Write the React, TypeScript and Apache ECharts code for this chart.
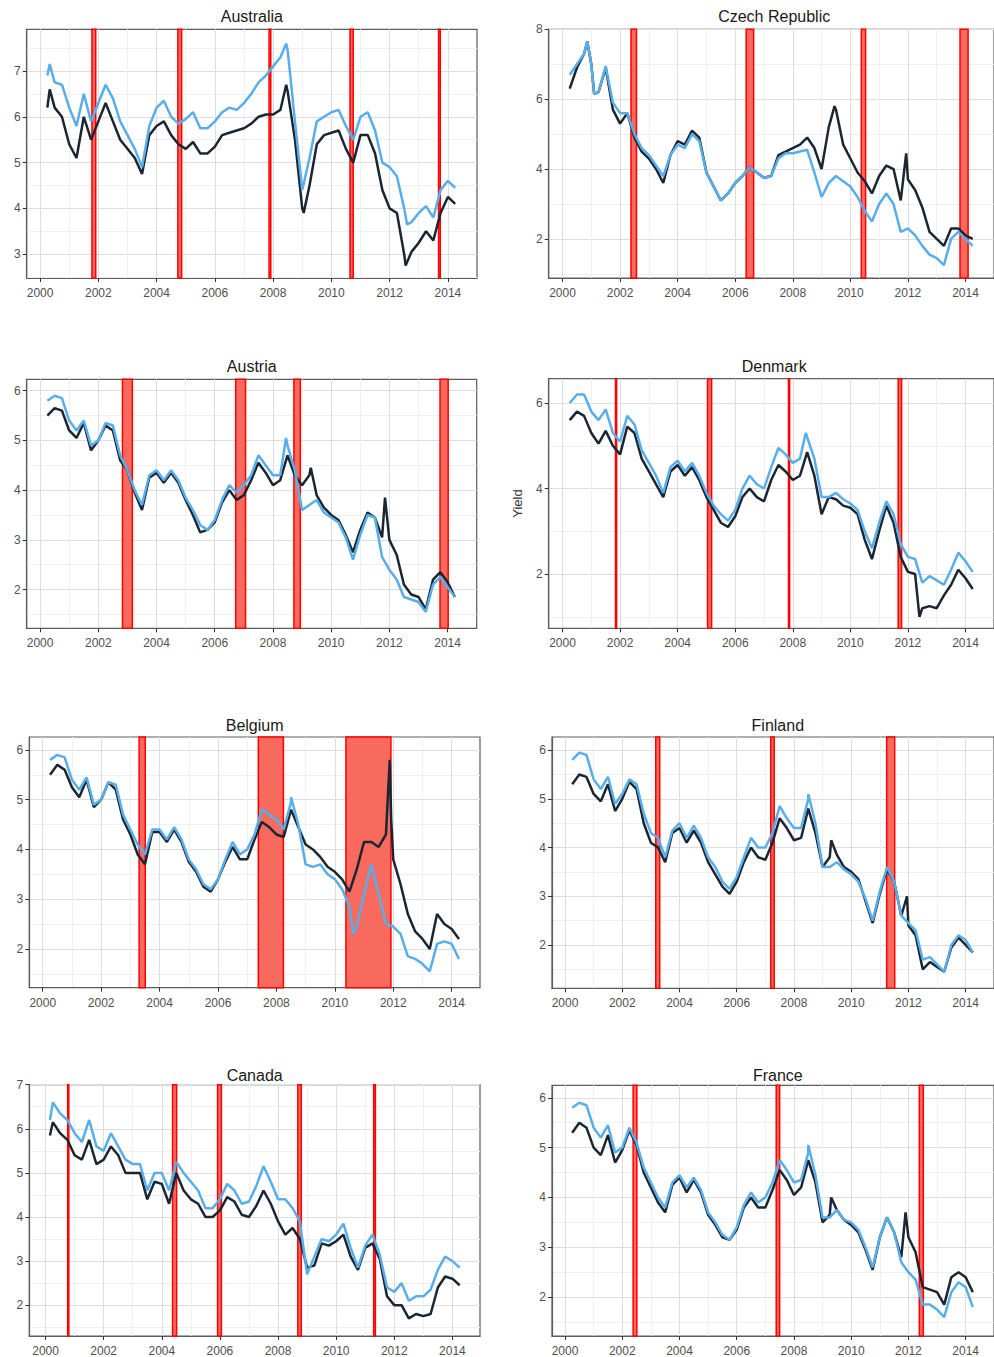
import React, { useEffect, useRef } from "react";
import * as echarts from "echarts";

// Quarterly sample dates (decimal years)
const DATES = [
  2000.25, 2000.5, 2000.75, 2001, 2001.25, 2001.5, 2001.75, 2002, 2002.25, 2002.5, 2002.75, 2003,
  2003.25, 2003.5, 2003.75, 2004, 2004.25, 2004.5, 2004.75, 2005, 2005.25, 2005.5, 2005.75, 2006,
  2006.25, 2006.5, 2006.75, 2007, 2007.25, 2007.5, 2007.75, 2008, 2008.25, 2008.5, 2008.75, 2009,
  2009.25, 2009.5, 2009.75, 2010, 2010.25, 2010.5, 2010.75, 2011, 2011.25, 2011.5, 2011.75, 2012,
  2012.25, 2012.5, 2012.75, 2013, 2013.25, 2013.5, 2013.75, 2014, 2014.25,
];

const YEAR_TICKS = [2000, 2002, 2004, 2006, 2008, 2010, 2012, 2014];

const AUS_BLUE = [6.9,6.75,6.7,6.2, 5.8,6.5,5.9,6.3, 6.7,6.4,5.9,5.6, 5.3,4.9,5.8,6.2, 6.35,6.0,5.85,5.95, 6.1,5.75,5.75,5.9, 6.1,6.2,6.15,6.3, 6.5,6.75,6.9,7.1, 7.3,7.45,5.9,4.4, 5.1,5.9,6.0,6.1, 6.15,5.8,5.5,6.0, 6.1,5.7,5.0,4.9, 4.7,4.0,3.7,3.9, 4.05,3.8,4.4,4.6, 4.45];
const AUS_BLACK = [6.2,6.2,6.0,5.4, 5.1,6.0,5.5,5.9, 6.3,5.9,5.5,5.3, 5.1,4.75,5.6,5.8, 5.9,5.6,5.4,5.3, 5.45,5.2,5.2,5.35, 5.6,5.65,5.7,5.75, 5.85,6.0,6.05,6.05, 6.15,6.55,5.5,4.0, 4.5,5.4,5.6,5.65, 5.7,5.3,5.0,5.6, 5.6,5.2,4.4,4.0, 3.9,3.0,3.05,3.25, 3.5,3.3,3.9,4.25, 4.1];

const CZE_BLUE = [6.7,7.0,7.3,7.0, 6.2,6.95,5.9,5.6, 5.6,5.0,4.6,4.4, 4.1,3.8,4.4,4.7, 4.6,5.0,4.8,3.9, 3.5,3.1,3.3,3.6, 3.8,4.05,3.9,3.75, 3.8,4.3,4.45,4.45, 4.5,4.55,3.9,3.2, 3.6,3.8,3.65,3.5, 3.2,2.8,2.5,3.0, 3.3,3.0,2.2,2.3, 2.1,1.8,1.55,1.45, 1.25,2.0,2.2,2.0, 1.8];
const CZE_BLACK = [6.3,6.9,7.3,7.0, 6.2,6.9,5.7,5.3, 5.6,4.9,4.5,4.3, 4.0,3.6,4.4,4.8, 4.7,5.1,4.9,3.9, 3.5,3.1,3.3,3.6, 3.8,4.05,3.9,3.75, 3.8,4.4,4.5,4.6, 4.7,4.9,4.6,4.0, 5.2,5.7,4.7,4.3, 3.9,3.65,3.3,3.8, 4.1,4.0,3.1,3.7, 3.4,2.9,2.2,2.0, 1.8,2.3,2.3,2.1, 2.0];

const AUT_BLUE = [5.8,5.9,5.85,5.4, 5.2,5.4,4.9,5.0, 5.35,5.3,4.7,4.4, 4.0,3.7,4.3,4.4, 4.2,4.4,4.2,3.85, 3.6,3.3,3.2,3.4, 3.8,4.1,3.95,4.1, 4.3,4.7,4.5,4.3, 4.3,4.9,4.4,3.6, 3.7,3.8,3.55,3.45, 3.35,3.05,2.6,3.1, 3.5,3.45,2.65,2.4, 2.2,1.85,1.8,1.75, 1.55,2.1,2.25,2.05, 1.85];
const AUT_BLACK = [5.5,5.65,5.6,5.2, 5.05,5.35,4.8,5.0, 5.3,5.2,4.6,4.4, 3.95,3.6,4.25,4.35, 4.15,4.35,4.15,3.8, 3.5,3.15,3.2,3.35, 3.75,4.0,3.8,3.9, 4.2,4.55,4.35,4.1, 4.2,4.7,4.3,4.1, 4.3,3.9,3.65,3.5, 3.4,3.1,2.75,3.2, 3.55,3.45,3.05,3.0, 2.7,2.1,1.9,1.85, 1.6,2.2,2.35,2.15, 1.85];

const DNK_BLUE = [6.0,6.2,6.2,5.8, 5.6,5.85,5.3,5.1, 5.7,5.5,4.9,4.6, 4.3,3.9,4.5,4.65, 4.4,4.6,4.3,3.9, 3.6,3.4,3.25,3.5, 4.0,4.3,4.1,4.0, 4.5,4.95,4.8,4.6, 4.7,5.2,4.7,3.8, 3.8,3.9,3.75,3.65, 3.5,3.0,2.6,3.2, 3.7,3.4,2.7,2.4, 2.35,1.8,1.95,1.85, 1.75,2.1,2.5,2.3, 2.05];
const DNK_BLACK = [5.6,5.8,5.7,5.3, 5.05,5.35,5.0,4.8, 5.45,5.3,4.7,4.4, 4.1,3.8,4.4,4.55, 4.3,4.5,4.2,3.8, 3.5,3.2,3.1,3.35, 3.8,4.0,3.8,3.7, 4.2,4.55,4.4,4.2, 4.3,4.85,4.3,3.4, 3.8,3.75,3.6,3.55, 3.4,2.8,2.35,3.0, 3.6,3.2,2.4,2.05, 2.0,1.2,1.25,1.2, 1.5,1.75,2.1,1.9, 1.65];

const BEL_BLUE = [5.8,5.9,5.85,5.4, 5.2,5.45,4.9,5.0, 5.35,5.3,4.7,4.4, 4.1,3.9,4.4,4.4, 4.2,4.45,4.2,3.8, 3.6,3.3,3.2,3.4, 3.8,4.15,3.9,4.0, 4.3,4.8,4.7,4.6, 4.4,4.95,4.5,3.7, 3.65,3.7,3.5,3.4, 3.2,2.85,2.45,3.1, 3.7,3.1,2.5,2.45, 2.3,1.85,1.8,1.7, 1.55,2.1,2.15,2.1, 1.8];
const BEL_BLACK = [5.5,5.7,5.6,5.25, 5.05,5.4,4.85,5.0, 5.35,5.2,4.6,4.3, 3.9,3.7,4.35,4.35, 4.15,4.4,4.15,3.75, 3.55,3.25,3.15,3.4, 3.75,4.05,3.8,3.8, 4.2,4.55,4.45,4.3, 4.25,4.8,4.45,4.1, 4.0,3.85,3.65,3.55, 3.4,3.15,3.6,4.15, 4.15,4.05,4.3,3.8, 3.3,2.7,2.35,2.2, 2.0,2.7,2.5,2.4, 2.2];

const FIN_BLUE = [5.8,5.95,5.9,5.4, 5.2,5.45,4.9,5.1, 5.4,5.3,4.7,4.3, 4.2,3.8,4.35,4.5, 4.2,4.45,4.2,3.8, 3.6,3.3,3.15,3.4, 3.8,4.2,4.0,4.0, 4.3,4.85,4.6,4.4, 4.4,5.0,4.5,3.6, 3.6,3.7,3.55,3.45, 3.3,2.95,2.5,3.1, 3.6,3.3,2.6,2.45, 2.3,1.7,1.75,1.6, 1.45,2.0,2.2,2.1, 1.85];
const FIN_BLACK = [5.3,5.5,5.45,5.1, 4.95,5.3,4.75,5.0, 5.35,5.2,4.5,4.1, 4.0,3.7,4.3,4.4, 4.1,4.35,4.1,3.7, 3.45,3.2,3.05,3.3, 3.7,4.0,3.8,3.75, 4.1,4.6,4.4,4.15, 4.2,4.8,4.3,3.6, 3.8,3.85,3.6,3.5, 3.35,2.9,2.45,3.05, 3.55,3.3,2.6,2.4, 2.2,1.5,1.65,1.55, 1.45,1.95,2.15,2.0, 1.85];

const CAN_BLUE = [6.6,6.35,6.2,5.9, 5.7,6.2,5.6,5.5, 5.9,5.6,5.3,5.2, 5.2,4.6,5.0,5.0, 4.6,5.25,5.0,4.8, 4.6,4.2,4.2,4.4, 4.75,4.6,4.3,4.35, 4.7,5.15,4.8,4.4, 4.4,4.2,3.9,2.7, 3.1,3.5,3.45,3.6, 3.85,3.3,2.85,3.35, 3.6,3.15,2.4,2.3, 2.5,2.1,2.2,2.2, 2.35,2.8,3.1,3.0, 2.85];
const CAN_BLACK = [6.15,5.9,5.75,5.4, 5.3,5.75,5.2,5.3, 5.6,5.4,5.0,5.0, 5.0,4.4,4.8,4.75, 4.3,5.0,4.6,4.4, 4.3,4.0,4.0,4.15, 4.45,4.35,4.05,4.0, 4.25,4.6,4.3,3.9, 3.6,3.75,3.5,2.85, 2.9,3.4,3.35,3.45, 3.6,3.1,2.8,3.3, 3.4,3.05,2.2,2.0, 2.0,1.7,1.8,1.75, 1.8,2.4,2.65,2.6, 2.45];

const FRA_BLUE = [5.8,5.9,5.85,5.4, 5.2,5.45,4.9,5.0, 5.4,5.1,4.6,4.3, 4.0,3.8,4.3,4.45, 4.2,4.4,4.15,3.7, 3.5,3.25,3.15,3.4, 3.85,4.1,3.9,4.0, 4.3,4.75,4.55,4.3, 4.35,4.9,4.45,3.6, 3.6,3.75,3.55,3.5, 3.35,3.0,2.6,3.2, 3.6,3.3,2.7,2.5, 2.35,1.85,1.85,1.75, 1.6,2.1,2.3,2.2, 1.8];
const FRA_BLACK = [5.3,5.5,5.4,5.0, 4.85,5.25,4.7,4.95, 5.35,5.05,4.5,4.2, 3.9,3.7,4.25,4.4, 4.1,4.35,4.1,3.65, 3.45,3.2,3.15,3.35, 3.8,4.0,3.8,3.8, 4.15,4.55,4.35,4.05, 4.2,4.75,4.3,3.5, 3.65,3.75,3.55,3.45, 3.3,2.95,2.55,3.2, 3.6,3.3,2.8,3.2, 2.9,2.2,2.15,2.1, 1.85,2.4,2.5,2.4, 2.1];

// Extra readings at short-lived peaks/spikes: [date, value]
const AUS_BLUE_EXTRA = [[2000.33, 7.15], [2008.45, 7.6], [2012.6, 3.65]];
const AUS_BLACK_EXTRA = [[2000.33, 6.6], [2008.45, 6.7], [2009.05, 3.9], [2012.55, 2.75]];
const CZE_BLUE_EXTRA = [[2000.86, 7.65], [2001.1, 6.15]];
const CZE_BLACK_EXTRA = [[2000.86, 7.65], [2001.1, 6.15], [2009.45, 5.8], [2011.94, 4.45]];
const AUT_BLUE_EXTRA: number[][] = [[2008.45, 5.05]];
const AUT_BLACK_EXTRA = [[2009.3, 4.45], [2011.85, 3.85]];
const DNK_BLUE_EXTRA: number[][] = [[2008.45, 5.3]];
const DNK_BLACK_EXTRA: number[][] = [[2012.4, 1.0]];
const BEL_BLUE_EXTRA: number[][] = [[2008.5, 5.05], [2010.63, 2.3]];
const BEL_BLACK_EXTRA = [[2011.88, 5.8], [2011.93, 4.6]];
const FIN_BLUE_EXTRA: number[][] = [[2008.5, 5.1]];
const FIN_BLACK_EXTRA = [[2009.3, 4.15], [2011.95, 3.0]];
const CAN_BLUE_EXTRA = [[2000.15, 6.2]];
const CAN_BLACK_EXTRA: number[][] = [[2000.15, 5.85]];
const FRA_BLUE_EXTRA: number[][] = [[2008.5, 5.05]];
const FRA_BLACK_EXTRA = [[2009.3, 4.0], [2011.9, 3.7]];

// Shaded episodes [start, end] in decimal years
const AUS_BANDS = [[2001.78, 2001.91], [2004.73, 2004.86], [2007.86, 2007.92], [2010.64, 2010.75], [2013.68, 2013.74]];
const CZE_BANDS = [[2002.38, 2002.57], [2006.38, 2006.64], [2010.38, 2010.53], [2013.81, 2014.09]];
const AUT_BANDS = [[2002.83, 2003.17], [2006.72, 2007.06], [2008.72, 2008.94], [2013.74, 2014.02]];
const DNK_BANDS = [[2001.84, 2001.88], [2005.04, 2005.18], [2007.85, 2007.89], [2011.66, 2011.78]];
const BEL_BANDS = [[2003.30, 2003.51], [2007.38, 2008.24], [2010.38, 2011.92]];
const FIN_BANDS = [[2003.17, 2003.31], [2007.19, 2007.31], [2011.24, 2011.52]];
const CAN_BANDS = [[2000.76, 2000.80], [2004.37, 2004.51], [2005.92, 2006.05], [2008.68, 2008.80], [2011.29, 2011.35]];
const FRA_BANDS = [[2002.38, 2002.51], [2007.38, 2007.50], [2012.38, 2012.52]];

const COUNTRIES = ["Australia", "Czech Republic", "Austria", "Denmark", "Belgium", "Finland", "Canada", "France"];
const BLUE_SERIES = [AUS_BLUE, CZE_BLUE, AUT_BLUE, DNK_BLUE, BEL_BLUE, FIN_BLUE, CAN_BLUE, FRA_BLUE];
const BLACK_SERIES = [AUS_BLACK, CZE_BLACK, AUT_BLACK, DNK_BLACK, BEL_BLACK, FIN_BLACK, CAN_BLACK, FRA_BLACK];
const BLUE_EXTRAS = [AUS_BLUE_EXTRA, CZE_BLUE_EXTRA, AUT_BLUE_EXTRA, DNK_BLUE_EXTRA, BEL_BLUE_EXTRA, FIN_BLUE_EXTRA, CAN_BLUE_EXTRA, FRA_BLUE_EXTRA];
const BLACK_EXTRAS = [AUS_BLACK_EXTRA, CZE_BLACK_EXTRA, AUT_BLACK_EXTRA, DNK_BLACK_EXTRA, BEL_BLACK_EXTRA, FIN_BLACK_EXTRA, CAN_BLACK_EXTRA, FRA_BLACK_EXTRA];
const BANDS = [AUS_BANDS, CZE_BANDS, AUT_BANDS, DNK_BANDS, BEL_BANDS, FIN_BANDS, CAN_BANDS, FRA_BANDS];
const Y_TICKS = [[3, 4, 5, 6, 7], [2, 4, 6, 8], [2, 3, 4, 5, 6], [2, 4, 6], [2, 3, 4, 5, 6], [2, 3, 4, 5, 6], [2, 3, 4, 5, 6, 7], [2, 3, 4, 5, 6]];
const Y_RANGE = [[2.48, 7.91], [0.88, 8.0], [1.22, 6.23], [0.73, 6.57], [1.22, 6.26], [1.11, 6.27], [1.3, 7.0], [1.22, 6.25]];
const Y_STEP = [1, 2, 1, 2, 1, 1, 1, 1];
const X_RANGE = [[1999.54, 2015.0], [1999.52, 2014.99], [1999.54, 2015.0], [1999.52, 2014.99], [1999.54, 2014.97], [1999.545, 2014.99], [1999.44, 2014.95], [1999.545, 2014.99]];

// Layout (px)
const LAYOUT = [
  { left: 26.7, top: 29.3, width: 450.3, height: 248.7, titleY: 16.7 },
  { left: 548.7, top: 29.3, width: 451, height: 248.7, titleY: 16.7 },
  { left: 26.7, top: 379.3, width: 450, height: 249, titleY: 366 },
  { left: 548.7, top: 378.7, width: 451, height: 249.6, titleY: 366 },
  { left: 29.3, top: 737, width: 450.7, height: 250.7, titleY: 725.5 },
  { left: 552, top: 737, width: 451.6, height: 251.3, titleY: 725.5 },
  { left: 29.3, top: 1084.7, width: 450.7, height: 252, titleY: 1075 },
  { left: 552, top: 1085.3, width: 451.6, height: 251.4, titleY: 1075 },
];

const FONT = "'Liberation Sans', Arial, Helvetica, sans-serif";
const BLUE = "#58aeea";
const DARK = "#1b2633";

function mergePoints(values: number[], extra: number[][]) {
  const pts = DATES.map((d, k) => [d, values[k]]).concat(extra.map((p) => [p[0], p[1]]));
  pts.sort((a, b) => a[0] - b[0]);
  return pts;
}

function buildOption() {
  const grid: any[] = [];
  const xAxis: any[] = [];
  const yAxis: any[] = [];
  const series: any[] = [];
  const graphic: any[] = [];

  COUNTRIES.forEach((name, i) => {
    const L = LAYOUT[i];
    grid.push({
      left: L.left, top: L.top, width: L.width, height: L.height,
      show: true, borderColor: "#5c5c5c", borderWidth: 1.2, backgroundColor: "#ffffff",
    });
    xAxis.push({
      type: "value", gridIndex: i, min: X_RANGE[i][0], max: X_RANGE[i][1],
      minInterval: 2, maxInterval: 2,
      axisLine: { show: true, onZero: false, lineStyle: { color: "#5c5c5c", width: 1.2 } },
      axisTick: { show: true, length: 4, customValues: YEAR_TICKS, lineStyle: { color: "#333", width: 1 } },
      axisLabel: {
        customValues: YEAR_TICKS, margin: 9, fontSize: 12, color: "#505050", fontFamily: FONT,
        formatter: (v: number) => (Math.abs(v - Math.round(v)) < 1e-6 && Math.round(v) % 2 === 0 ? String(Math.round(v)) : ""),
      },
      splitLine: { show: true, lineStyle: { color: "#dddddd", width: 1 } },
      minorTick: { show: false, splitNumber: 2 },
      minorSplitLine: { show: true, lineStyle: { color: "#f0f0f0", width: 1 } },
    });
    yAxis.push({
      type: "value", gridIndex: i, min: Y_RANGE[i][0], max: Y_RANGE[i][1],
      minInterval: Y_STEP[i], maxInterval: Y_STEP[i],
      name: i === 3 ? "Yield" : "",
      nameLocation: "middle", nameGap: 25,
      nameTextStyle: { fontSize: 13, color: "#333", fontFamily: FONT },
      axisLine: { show: true, onZero: false, lineStyle: { color: "#5c5c5c", width: 1.2 } },
      axisTick: { show: true, length: 4, customValues: Y_TICKS[i], lineStyle: { color: "#333", width: 1 } },
      axisLabel: {
        customValues: Y_TICKS[i], margin: 6, fontSize: 12, color: "#505050", fontFamily: FONT,
        formatter: (v: number) => (Math.abs(v - Math.round(v)) < 1e-6 ? String(Math.round(v)) : ""),
      },
      splitLine: { show: true, lineStyle: { color: "#dddddd", width: 1 } },
      minorTick: { show: false, splitNumber: 2 },
      minorSplitLine: { show: true, lineStyle: { color: "#f0f0f0", width: 1 } },
    });
    series.push({
      type: "line", name: name + " black", xAxisIndex: i, yAxisIndex: i, z: 2,
      data: mergePoints(BLACK_SERIES[i], BLACK_EXTRAS[i]),
      showSymbol: false, symbol: "none", silent: true,
      lineStyle: { color: DARK, width: 2.5 },
      markArea: {
        silent: true, z: 1,
        itemStyle: { color: "#f86a5e", borderColor: "#ff0000", borderWidth: 1.5 },
        data: BANDS[i].map((b) => [{ xAxis: b[0] }, { xAxis: b[1] }]),
      },
    });
    series.push({
      type: "line", name: name + " blue", xAxisIndex: i, yAxisIndex: i, z: 3,
      data: mergePoints(BLUE_SERIES[i], BLUE_EXTRAS[i]),
      showSymbol: false, symbol: "none", silent: true,
      lineStyle: { color: BLUE, width: 2.5 },
    });
    graphic.push({
      type: "text", x: L.left + L.width / 2, y: L.titleY, silent: true,
      style: { text: name, fontSize: 16, fontFamily: FONT, fill: "#1a1a1a", align: "center", verticalAlign: "middle" },
    });
  });

  return { animation: false, backgroundColor: "#ffffff", grid, xAxis, yAxis, series, graphic };
}

export default function App() {
  const ref = useRef<HTMLDivElement>(null);
  useEffect(() => {
    if (!ref.current) return;
    const chart = echarts.init(ref.current, undefined, { renderer: "svg" });
    chart.setOption(buildOption() as any);
    return () => chart.dispose();
  }, []);
  return <div ref={ref} style={{ position: "absolute", left: 0, top: 0, width: 994, height: 1357 }} />;
}
